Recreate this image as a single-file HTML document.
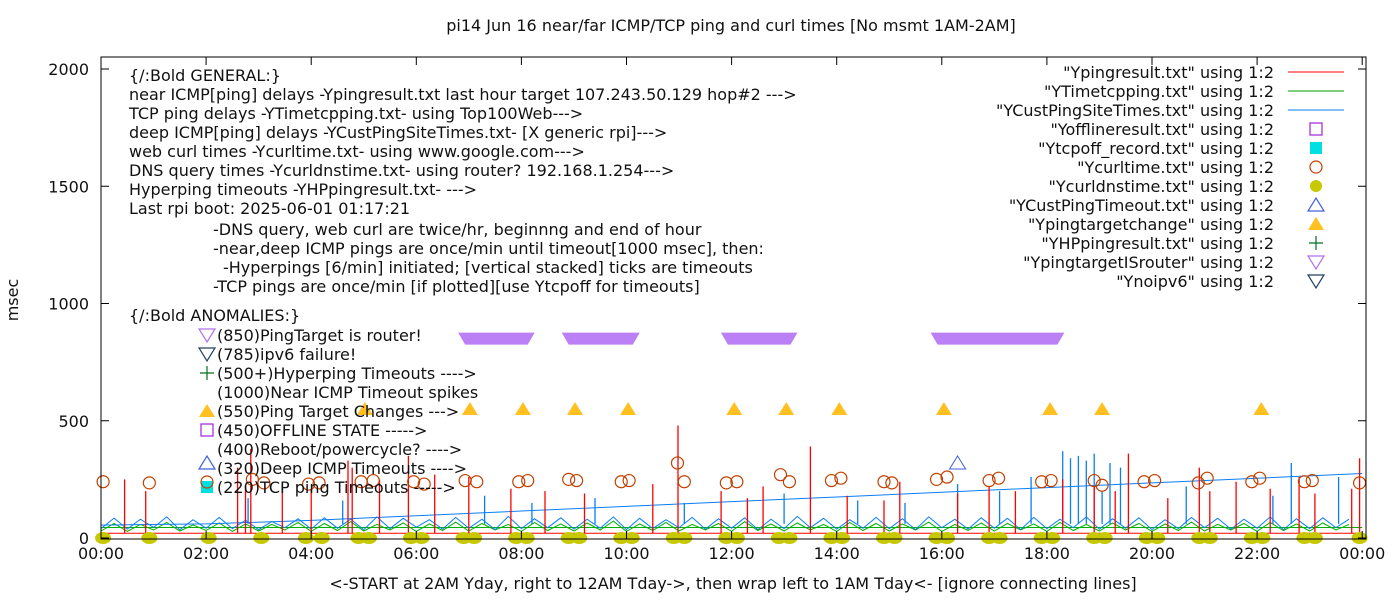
<!DOCTYPE html>
<html><head><meta charset="utf-8">
<style>
body{margin:0;background:#fff;}
svg{display:block;font-family:"DejaVu Sans","Liberation Sans",sans-serif;}
text{font-size:16px;fill:#111;}
</style></head>
<body>
<svg id="chart" width="1400" height="600" viewBox="0 0 1400 600" xmlns="http://www.w3.org/2000/svg">
<text x="731" y="31" text-anchor="middle">pi14 Jun 16  near/far ICMP/TCP ping and curl times [No msmt 1AM-2AM]</text>
<text transform="translate(18,300) rotate(-90)" text-anchor="middle">msec</text>
<text x="733" y="589" text-anchor="middle">&lt;-START at 2AM Yday, right to 12AM Tday-&gt;, then wrap left to 1AM Tday&lt;- [ignore connecting lines]</text>
<g id="plot"></g>
<g id="axes"></g>
<g id="notes"></g>
<g id="legend"></g>
</svg>
<script>
// ---- data ----
const yTicks = [0, 500, 1000, 1500, 2000];
const xTickHours = [0, 2, 4, 6, 8, 10, 12, 14, 16, 18, 20, 22, 24];
const xTickLabels = ["00:00","02:00","04:00","06:00","08:00","10:00","12:00","14:00","16:00","18:00","20:00","22:00","00:00"];
// noisy series sampled every 15 min (96 samples)
const blueNoise = [40,85,38,80,45,90,35,78,42,88,40,76,36,70,44,82,38,86,42,80,36,90,40,84,46,78,38,88,42,80,36,92,40,82,44,86,38,80,42,90,36,84,40,78,44,88,38,82,42,86,36,80,40,92,44,84,38,78,42,88,40,82,36,90,44,80,38,86,42,84,36,88,40,80,44,90,38,82,42,86,36,78,40,88,44,84,38,80,42,90,36,82,40,86,44,80];
const greenNoise = [30,62,28,58,34,66,30,56,32,64,28,60,30,58,34,66,28,62,32,70,30,58,34,64,28,60,32,68,30,62,34,58,28,66,32,60,30,64,34,72,28,60,32,66,30,58,34,62,28,70,32,60,30,64,34,58,28,66,32,62,30,60,34,68,28,58,32,64,30,62,34,60,28,66,32,58,30,64,34,62,28,60,32,68,30,58,34,62,28,66,32,60,30,64,34,58];
const redBase = 20;
const redSpikeHours = [0.45,0.85,2.6,2.75,2.85,3.45,4.0,4.7,4.78,5.3,5.85,6.35,7.0,7.8,8.45,9.2,10.5,10.98,11.8,12.3,12.6,13.5,14.2,14.9,15.2,16.3,16.9,17.4,18.3,18.9,19.3,19.55,20.3,20.9,21.1,21.6,22.25,22.8,23.1,23.8,23.95];
const redSpikeValues = [250,200,300,220,380,230,210,330,300,250,350,270,260,210,200,190,230,480,200,170,220,390,180,160,240,190,220,200,250,220,200,360,170,300,200,240,210,260,190,210,340];
const blueSpikeHours = [2.8,4.6,7.3,8.2,9.4,11.1,13.0,14.4,15.3,16.3,17.1,17.7,18.3,18.45,18.6,18.75,18.9,19.05,19.2,19.4,20.65,22.3,22.65,23.55];
const blueSpikeValues = [170,160,180,150,170,150,190,160,150,230,200,260,370,340,350,330,360,200,320,300,220,180,320,260];
// slow rising deep-ping trend line
const trendHours = [0,2,4,6,8,10,12,14,16,18,20,22,24];
const trendValues = [55,60,75,95,115,135,155,175,195,215,235,255,275];
// markers
const curlHours = [0.04,0.92,2.88,3.1,3.95,4.15,4.95,5.18,5.95,6.15,6.93,7.15,7.95,8.12,8.9,9.05,9.9,10.05,10.97,11.1,11.9,12.1,12.93,13.1,13.9,14.08,14.9,15.05,15.9,16.1,16.9,17.08,17.9,18.08,18.9,19.05,19.85,20.05,20.88,21.05,21.9,22.05,22.9,23.05,23.95];
const curlValues = [240,235,250,235,230,235,240,245,240,230,245,240,240,245,250,245,240,245,320,240,235,240,270,240,245,255,240,235,250,260,245,255,240,245,245,225,240,245,235,255,240,255,240,245,235];
const dnsHours = [0.04,0.92,2.05,3.05,3.9,4.2,4.9,5.1,5.9,6.1,6.9,7.1,7.9,8.1,8.9,9.1,9.9,10.1,10.9,11.1,11.9,12.1,12.9,13.1,13.9,14.1,14.9,15.1,15.9,16.1,16.9,17.1,17.9,18.1,18.9,19.1,19.9,20.1,20.9,21.1,21.9,22.1,22.9,23.1,23.95];
const dnsValues = [0,0,0,0,0,0,0,0,0,0,0,0,0,0,0,0,0,0,0,0,0,0,0,0,0,0,0,0,0,0,0,0,0,0,0,0,0,0,0,0,0,0,0,0,0];
const targetChangeHours = [5.02,7.02,8.03,9.02,10.03,12.05,13.04,14.05,16.04,18.06,19.05,22.08];
const targetChangeValue = 550;
const routerStartHours = [6.93,8.9,11.93,15.92];
const routerEndHours = [8.12,10.12,13.12,18.2];
const routerValue = 850;
const deepTimeoutHours = [16.3];
const deepTimeoutValues = [320];

// ---- axes ----
const L=101,R=1366,T=57,B=539;
const xs = h => L + h*52.55;
const ys = v => 538 - v*0.2345;
const NS="http://www.w3.org/2000/svg";
function mk(tag, attrs, parent){const e=document.createElementNS(NS,tag);for(const k in attrs)e.setAttribute(k,attrs[k]);parent.appendChild(e);return e;}
const plot=document.getElementById('plot'), axes=document.getElementById('axes');

let fr=mk('rect',{x:L,y:T,width:R-L,height:B-T,fill:'none',stroke:'#000','stroke-width':1},axes);


yTicks.forEach(v=>{
  const y=ys(v);
  let t=mk('path',{d:`M${L} ${y}h8M${R} ${y}h-8`,stroke:'#000'},axes);
  
  
  let tx=mk('text',{x:L-12,y:y+6,'text-anchor':'end'},axes);tx.textContent=v;
  
  
});
xTickHours.forEach((h,i)=>{
  const x=xs(h);
  let t=mk('path',{d:`M${x} ${B}v-8M${x} ${T}v8`,stroke:'#000'},axes);
  
  
  let tx=mk('text',{x:x,y:B+20,'text-anchor':'middle'},axes);tx.textContent=xTickLabels[i];
  
  
});

routerStartHours.forEach((h,i)=>{
  const x1=xs(h)-7,x2=xs(routerEndHours[i])+7,y=ys(routerValue);
  let p=mk('polygon',{points:`${x1},${y-6} ${x2},${y-6} ${x2-7},${y+6} ${x1+7},${y+6}`,fill:'#bb80f5'},plot);
  
  
});
let gp='';greenNoise.forEach((v,i)=>{gp+=(i?'L':'M')+xs(i/4).toFixed(1)+' '+ys(v).toFixed(1);});
let g=mk('path',{d:gp,fill:'none',stroke:'#00b000','stroke-width':1},plot);


let g2=mk('path',{d:`M${xs(0)} ${ys(45)}H${xs(24)}`,stroke:'#00b000'},plot);


let bp='';blueNoise.forEach((v,i)=>{bp+=(i?'L':'M')+xs(i/4).toFixed(1)+' '+ys(v).toFixed(1);});
let b=mk('path',{d:bp,fill:'none',stroke:'#0a7ef5','stroke-width':1},plot);


let bs='';blueSpikeHours.forEach((h,i)=>{const x=xs(h).toFixed(1);bs+=`M${x} ${ys(60)}V${ys(blueSpikeValues[i])}`;});
let bsp=mk('path',{d:bs,stroke:'#0a7ef5','stroke-width':1.3},plot);


let tp='';trendHours.forEach((h,i)=>{tp+=(i?'L':'M')+xs(h)+' '+ys(trendValues[i]);});
let tr=mk('path',{d:tp,fill:'none',stroke:'#0a7ef5'},plot);


let rb=mk('path',{d:`M${xs(0)} ${ys(redBase)}H${xs(24)}`,stroke:'#f00'},plot);


let rs='';redSpikeHours.forEach((h,i)=>{const x=xs(h).toFixed(1);rs+=`M${x} ${ys(redBase)}V${ys(redSpikeValues[i])}`;});
let rsp=mk('path',{d:rs,stroke:'#f00','stroke-width':1.3},plot);


dnsHours.forEach((h,i)=>{
  let e=mk('ellipse',{cx:xs(h),cy:ys(dnsValues[i]),rx:8,ry:6,fill:'#c8c800'},plot);
  
  
});
curlHours.forEach((h,i)=>{
  let c=mk('circle',{cx:xs(h),cy:ys(curlValues[i]),r:6,fill:'none',stroke:'#c04000','stroke-width':1.2},plot);
  
  
});
targetChangeHours.forEach(h=>{
  const x=xs(h),y=ys(targetChangeValue);
  let p=mk('polygon',{points:`${x-8},${y+6} ${x+8},${y+6} ${x},${y-7}`,fill:'#ffc020'},plot);
  
  
});
deepTimeoutHours.forEach((h,i)=>{
  const x=xs(h),y=ys(deepTimeoutValues[i]);
  let p=mk('polygon',{points:`${x-8},${y+6} ${x+8},${y+6} ${x},${y-7}`,fill:'none',stroke:'#4060e0'},plot);
  
  
});

const notes=document.getElementById('notes');
const general=[[129,81,"{/:Bold GENERAL:}"],[129,100,"near ICMP[ping] delays -Ypingresult.txt last hour target 107.243.50.129 hop#2 --->"],[129,119,"TCP ping delays -YTimetcpping.txt- using Top100Web--->"],[129,138,"deep ICMP[ping] delays -YCustPingSiteTimes.txt- [X generic rpi]--->"],[129,157,"web curl times -Ycurltime.txt- using www.google.com--->"],[129,176,"DNS query times -Ycurldnstime.txt- using router? 192.168.1.254--->"],[129,195,"Hyperping timeouts -YHPpingresult.txt- --->"],[129,214,"Last rpi boot: 2025-06-01 01:17:21"],[213,235,"-DNS query, web curl are twice/hr, beginnng and end of hour"],[213,254,"-near,deep ICMP pings are once/min until timeout[1000 msec], then:"],[223,273,"-Hyperpings [6/min] initiated; [vertical stacked] ticks are timeouts"],[213,292,"-TCP pings are once/min [if plotted][use Ytcpoff for timeouts]"],[129,321,"{/:Bold ANOMALIES:}"],[217,341,"(850)PingTarget is router!"],[217,360,"(785)ipv6 failure!"],[217,379,"(500+)Hyperping Timeouts ---->"],[217,398,"(1000)Near ICMP Timeout spikes"],[217,417,"(550)Ping Target Changes --->"],[217,436,"(450)OFFLINE STATE ----->"],[217,455,"(400)Reboot/powercycle? ---->"],[217,474,"(320)Deep ICMP Timeouts ---->"],[217,493,"(220)TCP ping Timeouts ----->"]];
general.forEach(r=>{let t=mk('text',{x:r[0],y:r[1]},notes);t.textContent=r[2];
  
  });
function marker(type,x,y,parent){
  let e;
  if(type==='tri-down-purple')e=mk('polygon',{points:`${x-8},${y-6} ${x+8},${y-6} ${x},${y+7}`,fill:'none',stroke:'#b070f0','stroke-width':1.2},parent);
  if(type==='tri-down-dark')e=mk('polygon',{points:`${x-8},${y-6} ${x+8},${y-6} ${x},${y+7}`,fill:'none',stroke:'#204060','stroke-width':1.2},parent);
  if(type==='plus')e=mk('path',{d:`M${x-7} ${y}h14M${x} ${y-7}v14`,stroke:'#007020','stroke-width':1.2},parent);
  if(type==='tri-up-fill')e=mk('polygon',{points:`${x-8},${y+6} ${x+8},${y+6} ${x},${y-7}`,fill:'#ffc020'},parent);
  if(type==='square')e=mk('rect',{x:x-6,y:y-6,width:12,height:12,fill:'none',stroke:'#a020e0','stroke-width':1.2},parent);
  if(type==='tri-up-blue')e=mk('polygon',{points:`${x-8},${y+6} ${x+8},${y+6} ${x},${y-7}`,fill:'none',stroke:'#4060e0','stroke-width':1.2},parent);
  if(type==='square-fill')e=mk('rect',{x:x-6,y:y-6,width:12,height:12,fill:'#00e0e0'},parent);
  if(type==='circle')e=mk('circle',{cx:x,cy:y,r:6,fill:'none',stroke:'#c04000','stroke-width':1.2},parent);
  if(type==='dot')e=mk('circle',{cx:x,cy:y,r:6,fill:'#c8c800'},parent);
  
  
}
[['tri-down-purple',335],['tri-down-dark',354],['plus',373],['tri-up-fill',411],['square',430],['tri-up-blue',463],['square-fill',487]].forEach(m=>marker(m[0],207,m[1],notes));
marker('circle',207,482,notes);

const legend=document.getElementById('legend');
const legendLabels=['"Ypingresult.txt" using 1:2','"YTimetcpping.txt" using 1:2','"YCustPingSiteTimes.txt" using 1:2','"Yofflineresult.txt" using 1:2','"Ytcpoff_record.txt" using 1:2','"Ycurltime.txt" using 1:2','"Ycurldnstime.txt" using 1:2','"YCustPingTimeout.txt" using 1:2','"Ypingtargetchange" using 1:2','"YHPpingresult.txt" using 1:2','"YpingtargetISrouter" using 1:2','"Ynoipv6" using 1:2'];
const legendKinds=['line-red','line-green','line-blue','square','square-fill','circle','dot','tri-up-blue','tri-up-fill','plus','tri-down-purple','tri-down-dark'];
legendLabels.forEach((lab,i)=>{
  const y=72+i*19;
  let t=mk('text',{x:1274,y:y+6,'text-anchor':'end'},legend);t.textContent=lab;
  
  
  const k=legendKinds[i];
  if(k.startsWith('line')){
    const col={'line-red':'#f00','line-green':'#00a000','line-blue':'#0a7ef5'}[k];
    let l=mk('path',{d:`M1288 ${y}H1344`,stroke:col},legend);
    
    
  } else marker(k,1316,y,legend);
});
</script>
</body></html>
